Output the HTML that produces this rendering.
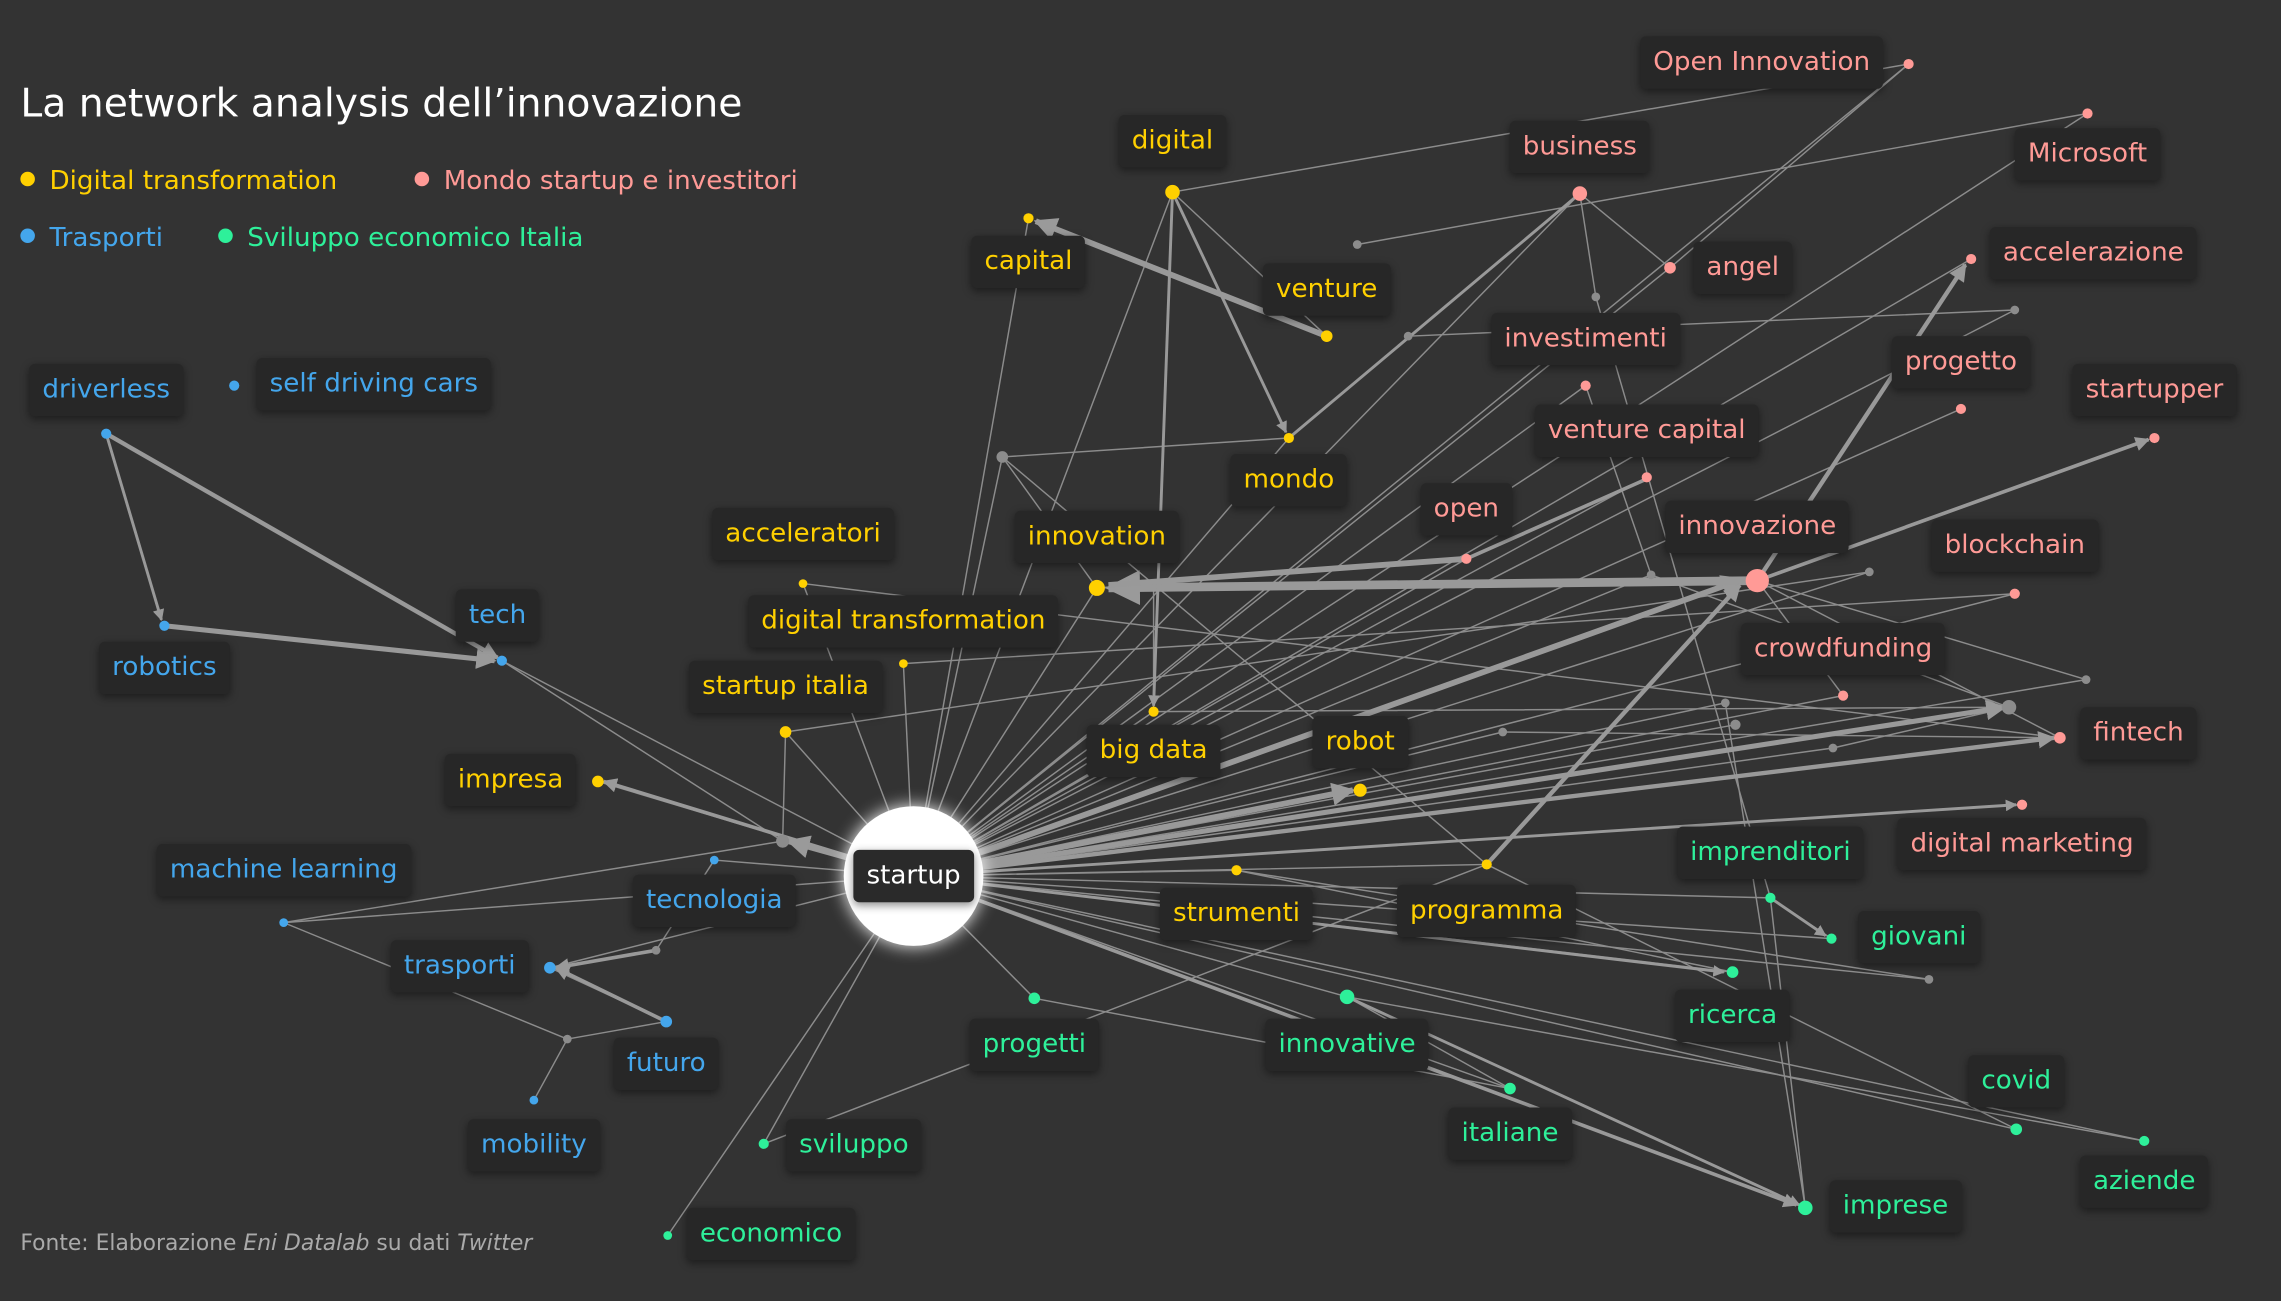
<!DOCTYPE html>
<html><head><meta charset="utf-8"><style>
html,body{margin:0;padding:0;background:#333333;overflow:hidden}
#w{position:absolute;left:0;top:0;width:1568px;height:894px;transform:scale(1.45472,1.45526);transform-origin:0 0;font-family:"DejaVu Sans","Liberation Sans",sans-serif}
svg{position:absolute;left:0;top:0}
.l{position:absolute;transform:translate(-50%,-50%);background:#272727;padding:7px 9px;border-radius:4px;font-size:18px;white-space:nowrap;box-shadow:0 2px 6px rgba(0,0,0,.45);line-height:22px}
.y{color:#ffd000}.p{color:#ff9a96}.b{color:#44a6ec}.g{color:#2ef09a}
.t{position:absolute;left:14px;top:56px;color:#fff;font-size:27px}
.lg{position:absolute;font-size:18px}
.lg i{display:inline-block;width:10px;height:10px;border-radius:50%;margin-right:10px;vertical-align:middle;position:relative;top:-2px}
.src{position:absolute;left:14px;top:845px;color:#aaa;font-size:15px}
</style></head><body><div id="w">
<svg width="1568" height="894" viewBox="0 0 1568 894">
<defs><marker id="a" viewBox="0 0 10 10" refX="9" refY="5" markerWidth="4" markerHeight="4" orient="auto"><path d="M0 0L10 5L0 10z" fill="#9a9a9a"/></marker></defs>
<g stroke="#8c8c8c" stroke-width="1" fill="none">
<path d="M628 602L707 150M628 602L806 132M628 602L886 301M628 602L754 404M628 602L552 401M628 602L621 456M628 602L540 503M628 602L411 537M628 602L793 489M628 602L850 598M628 602L1022 594M628 602L1086 133M628 602L1148 184M628 602L1090 265M628 602L1132 328M628 602L1008 384M628 602L1385 408M628 602L1267 478M628 602L1416 507M628 602L1390 553M628 602L345 454M628 602L195 634M628 602L491 591M628 602L378 665M628 602L1217 617M628 602L1259 645M628 602L1191 668M628 602L711 686M628 602L926 685M628 602L1386 776M628 602L1038 748M628 602L1474 784M628 602L525 786M628 602L459 849M628 602L1241 830M628 602L689 314M628 602L1285 393M628 602L1135 395M628 602L1434 467M628 602L1381 486M628 602L1186 483M628 602L1193 498M628 602L1260 514M628 602L1033 503M628 602L1326 673M628 602L538 578M628 602L1355 178M628 602L1312 44M628 602L1435 78M628 602L1348 281M628 602L1385 213"/>
<path d="M806 132L1312 44M806 132L912 231M933 168L1435 78M689 314L1022 594M689 314L886 301M689 314L754 404M968 231L1385 213M1086 133L1097 204M1097 204L1217 617M1148 184L1312 44M1086 133L1148 184M1086 133L886 301M1135 395L1381 486M1208 399L1416 507M1208 399L1434 467M1208 399L1267 478M1217 617L1259 645M1217 617L1241 830M1186 483L1241 830M538 578L345 454M491 591L451 653M451 653L378 665M378 665L458 702M390 714L458 702M390 714L367 756M390 714L195 634M195 634L538 578M926 685L1241 830M926 685L1038 748M926 685L1474 784M1022 594L1386 776M711 686L1038 748M850 598L1326 673M850 598L1191 668M621 456L1385 408M552 401L1416 507M540 503L1285 393M525 786L1022 594M1090 265L1135 395M1033 503L1416 507M793 489L1381 486M1260 514L1381 486M754 404L1208 399M793 489L793 404M540 503L538 578M754 404L1008 384"/>
</g>
<g stroke="#999" fill="none">
<path d="M628 602L1198 398" stroke-width="4" marker-end="url(#a)"/>
<path d="M628 602L930 543" stroke-width="4" marker-end="url(#a)"/>
<path d="M628 602L1378 486" stroke-width="3.5" marker-end="url(#a)"/>
<path d="M628 602L1412 507" stroke-width="3" marker-end="url(#a)"/>
<path d="M628 602L1386 553" stroke-width="2" marker-end="url(#a)"/>
<path d="M628 602L1185 668" stroke-width="2" marker-end="url(#a)"/>
<path d="M628 602L1235 828" stroke-width="2.5" marker-end="url(#a)"/>
<path d="M628 602L415 537" stroke-width="2.5" marker-end="url(#a)"/>
<path d="M628 602L542 578" stroke-width="4" marker-end="url(#a)"/>
<path d="M1208 399L762 404" stroke-width="6" marker-end="url(#a)"/>
<path d="M1008 384L762 402" stroke-width="4"/>
<path d="M912 231L712 152" stroke-width="4" marker-end="url(#a)"/>
<path d="M806 132L884 297" stroke-width="2" marker-end="url(#a)"/>
<path d="M806 132L793 485" stroke-width="2" marker-end="url(#a)"/>
<path d="M73 298L342 452" stroke-width="3" marker-end="url(#a)"/>
<path d="M113 430L340 454" stroke-width="3.5" marker-end="url(#a)"/>
<path d="M73 298L111 426" stroke-width="2" marker-end="url(#a)"/>
<path d="M1022 594L1196 402" stroke-width="3" marker-end="url(#a)"/>
<path d="M1208 399L1351 182" stroke-width="3" marker-end="url(#a)"/>
<path d="M1208 399L1477 302" stroke-width="2.5" marker-end="url(#a)"/>
<path d="M1008 384L1130 330" stroke-width="2.5"/>
<path d="M886 301L1086 133" stroke-width="2"/>
<path d="M1217 617L1255 643" stroke-width="2" marker-end="url(#a)"/>
<path d="M926 685L1237 828" stroke-width="2" marker-end="url(#a)"/>
<path d="M458 702L382 665" stroke-width="2.5" marker-end="url(#a)"/>
<path d="M451 653L382 665" stroke-width="2.5" marker-end="url(#a)"/>
</g>
<g>
<circle cx="628" cy="602" r="48" fill="#fff" style="filter:drop-shadow(0 0 6px #fff)"/>
<g fill="#ffd000"><circle cx="806" cy="132" r="5"/><circle cx="707" cy="150" r="3.5"/><circle cx="912" cy="231" r="4"/><circle cx="886" cy="301" r="3.5"/><circle cx="754" cy="404" r="5.5"/><circle cx="552" cy="401" r="3"/><circle cx="621" cy="456" r="3"/><circle cx="540" cy="503" r="4"/><circle cx="411" cy="537" r="4"/><circle cx="793" cy="489" r="3.5"/><circle cx="935" cy="543" r="4.5"/><circle cx="850" cy="598" r="3.5"/><circle cx="1022" cy="594" r="3.5"/></g>
<g fill="#ff9a96"><circle cx="1312" cy="44" r="3.5"/><circle cx="1086" cy="133" r="5"/><circle cx="1435" cy="78" r="3.5"/><circle cx="1148" cy="184" r="4"/><circle cx="1355" cy="178" r="3.5"/><circle cx="1090" cy="265" r="3.5"/><circle cx="1348" cy="281" r="3.5"/><circle cx="1481" cy="301" r="3.5"/><circle cx="1132" cy="328" r="3.5"/><circle cx="1008" cy="384" r="3.5"/><circle cx="1208" cy="399" r="8"/><circle cx="1385" cy="408" r="3.5"/><circle cx="1267" cy="478" r="3.5"/><circle cx="1416" cy="507" r="4"/><circle cx="1390" cy="553" r="3.5"/></g>
<g fill="#44a6ec"><circle cx="73" cy="298" r="3.5"/><circle cx="161" cy="265" r="3.5"/><circle cx="345" cy="454" r="3.5"/><circle cx="113" cy="430" r="3.5"/><circle cx="195" cy="634" r="3"/><circle cx="491" cy="591" r="3"/><circle cx="378" cy="665" r="4"/><circle cx="458" cy="702" r="4"/><circle cx="367" cy="756" r="3"/></g>
<g fill="#2ef09a"><circle cx="1217" cy="617" r="3.5"/><circle cx="1259" cy="645" r="3.5"/><circle cx="1191" cy="668" r="4"/><circle cx="711" cy="686" r="4"/><circle cx="926" cy="685" r="5"/><circle cx="1386" cy="776" r="4"/><circle cx="1038" cy="748" r="4"/><circle cx="1474" cy="784" r="3.5"/><circle cx="525" cy="786" r="3.5"/><circle cx="459" cy="849" r="3"/><circle cx="1241" cy="830" r="5"/></g>
<g fill="#8c8c8c"><circle cx="689" cy="314" r="4"/><circle cx="933" cy="168" r="3"/><circle cx="968" cy="231" r="3"/><circle cx="1097" cy="204" r="3"/><circle cx="1385" cy="213" r="3"/><circle cx="1285" cy="393" r="3"/><circle cx="1135" cy="395" r="3"/><circle cx="1434" cy="467" r="3"/><circle cx="1381" cy="486" r="5"/><circle cx="1186" cy="483" r="3"/><circle cx="1193" cy="498" r="3.5"/><circle cx="1260" cy="514" r="3"/><circle cx="1033" cy="503" r="3"/><circle cx="1326" cy="673" r="3"/><circle cx="538" cy="578" r="4.5"/><circle cx="451" cy="653" r="3"/><circle cx="390" cy="714" r="3"/></g>
</g>
</svg>
<div class="t">La network analysis dell’innovazione</div>
<div class="lg y" style="left:14px;top:114px"><i style="background:#ffd000"></i>Digital transformation</div>
<div class="lg p" style="left:285px;top:114px"><i style="background:#ff9a96"></i>Mondo startup e investitori</div>
<div class="lg b" style="left:14px;top:153px"><i style="background:#44a6ec"></i>Trasporti</div>
<div class="lg g" style="left:150px;top:153px"><i style="background:#2ef09a"></i>Sviluppo economico Italia</div>
<div class="src">Fonte: Elaborazione <i>Eni Datalab</i> su dati <i>Twitter</i></div>
<div class="l" style="left:628px;top:602px;color:#fff;background:#2a2a2a">startup</div>
<div class="l y" style="left:806px;top:97px">digital</div>
<div class="l y" style="left:707px;top:180px">capital</div>
<div class="l y" style="left:912px;top:199px">venture</div>
<div class="l y" style="left:886px;top:330px">mondo</div>
<div class="l y" style="left:754px;top:369px">innovation</div>
<div class="l y" style="left:552px;top:367px">acceleratori</div>
<div class="l y" style="left:621px;top:427px">digital transformation</div>
<div class="l y" style="left:540px;top:472px">startup italia</div>
<div class="l y" style="left:351px;top:536px">impresa</div>
<div class="l y" style="left:793px;top:516px">big data</div>
<div class="l y" style="left:935px;top:510px">robot</div>
<div class="l y" style="left:850px;top:628px">strumenti</div>
<div class="l y" style="left:1022px;top:626px">programma</div>
<div class="l p" style="left:1211px;top:43px">Open Innovation</div>
<div class="l p" style="left:1086px;top:101px">business</div>
<div class="l p" style="left:1435px;top:106px">Microsoft</div>
<div class="l p" style="left:1198px;top:184px">angel</div>
<div class="l p" style="left:1439px;top:174px">accelerazione</div>
<div class="l p" style="left:1090px;top:233px">investimenti</div>
<div class="l p" style="left:1348px;top:249px">progetto</div>
<div class="l p" style="left:1481px;top:268px">startupper</div>
<div class="l p" style="left:1132px;top:296px">venture capital</div>
<div class="l p" style="left:1008px;top:350px">open</div>
<div class="l p" style="left:1208px;top:362px">innovazione</div>
<div class="l p" style="left:1385px;top:375px">blockchain</div>
<div class="l p" style="left:1267px;top:446px">crowdfunding</div>
<div class="l p" style="left:1470px;top:504px">fintech</div>
<div class="l p" style="left:1390px;top:580px">digital marketing</div>
<div class="l b" style="left:73px;top:268px">driverless</div>
<div class="l b" style="left:257px;top:264px">self driving cars</div>
<div class="l b" style="left:342px;top:423px">tech</div>
<div class="l b" style="left:113px;top:459px">robotics</div>
<div class="l b" style="left:195px;top:598px">machine learning</div>
<div class="l b" style="left:491px;top:619px">tecnologia</div>
<div class="l b" style="left:316px;top:664px">trasporti</div>
<div class="l b" style="left:458px;top:731px">futuro</div>
<div class="l b" style="left:367px;top:787px">mobility</div>
<div class="l g" style="left:1217px;top:586px">imprenditori</div>
<div class="l g" style="left:1319px;top:644px">giovani</div>
<div class="l g" style="left:1191px;top:698px">ricerca</div>
<div class="l g" style="left:711px;top:718px">progetti</div>
<div class="l g" style="left:926px;top:718px">innovative</div>
<div class="l g" style="left:1386px;top:743px">covid</div>
<div class="l g" style="left:1038px;top:779px">italiane</div>
<div class="l g" style="left:1474px;top:812px">aziende</div>
<div class="l g" style="left:587px;top:787px">sviluppo</div>
<div class="l g" style="left:530px;top:848px">economico</div>
<div class="l g" style="left:1303px;top:829px">imprese</div>
</div></body></html>
